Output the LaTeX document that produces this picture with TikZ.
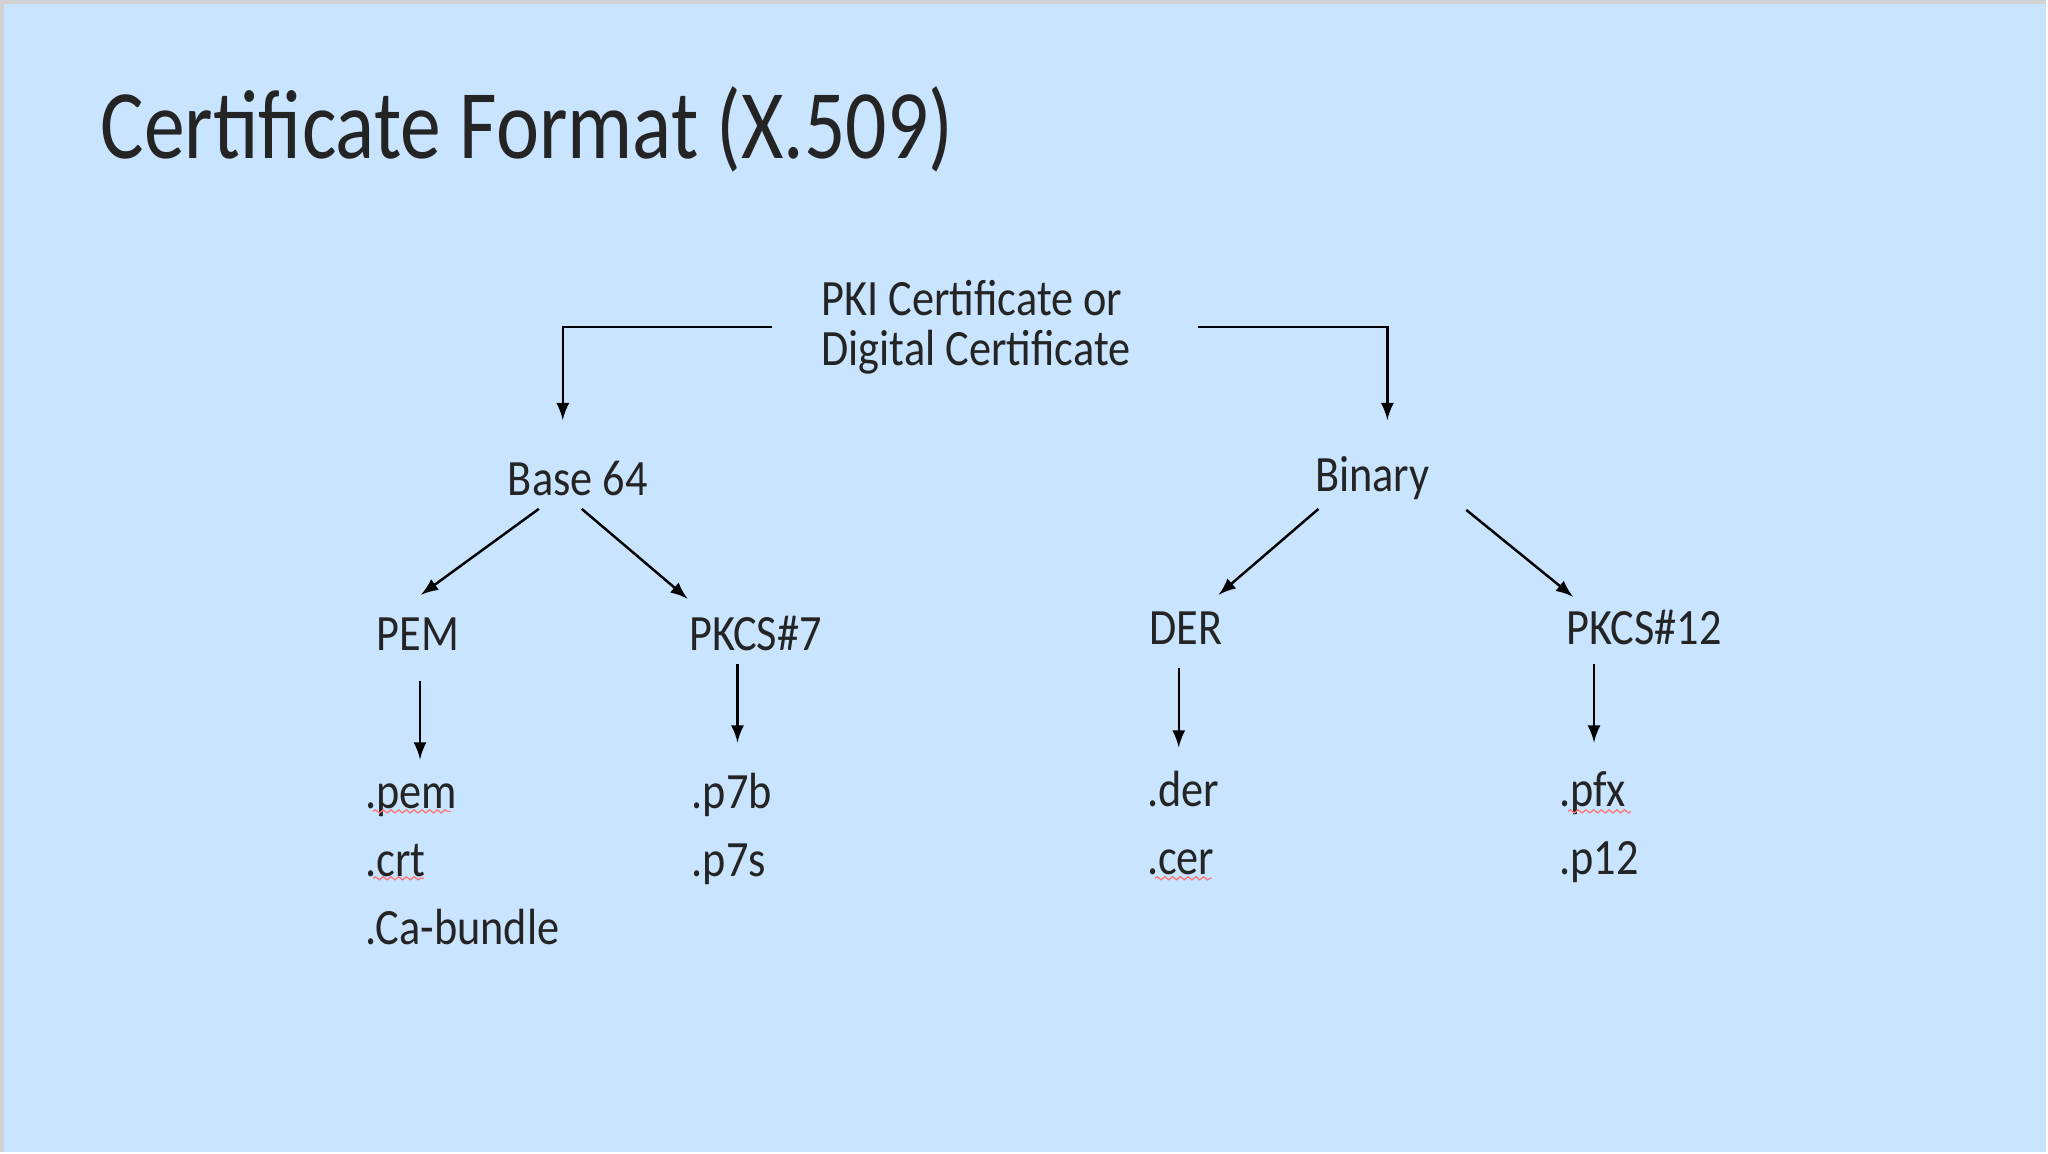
\documentclass[tikz,border=0pt]{standalone}
\usepackage{fontspec}
\setmainfont{Carlito}[FakeStretch=0.87]
\newfontfamily\titlefont{Carlito}[FakeStretch=0.83]
\usetikzlibrary{calc,decorations.pathmorphing}

\definecolor{slideblue}{HTML}{C9E4FF}
\definecolor{inkgray}{HTML}{242424}

\tikzset{
    fmt/.style={font=\fontsize{14.5}{14.2}\selectfont, text=inkgray, inner sep=0pt},
    ext/.style={fmt, anchor=base west},
    spell/.style={draw=red!55, line width=0.35pt, decorate,
        decoration={snake, amplitude=0.45pt, segment length=2.2pt}},
}

\begin{document}
\begin{tikzpicture}[x=0.01cm, y=-0.01cm, >=latex, line width=0.7pt]
    % the slide
    \fill[slideblue] (0,0) rectangle (2048,1152);
    \draw[gray!35, line width=1pt] (0,1152) -- (0,0) -- (2048,0);
    \useasboundingbox (0,0) rectangle (2048,1152);

    % the title
    \node[anchor=base west, inner sep=0pt, text=inkgray,
        font=\titlefont\fontsize{28}{30}\selectfont] (title) at (98,157) {Certificate Format (X.509)};

    % the tree (nodes placed on their baselines)
    \node[fmt, anchor=west, align=left] (pki) at (820,326) {PKI Certificate or\\Digital Certificate};
    \node[fmt, anchor=base] (base) at (577,495) {Base 64};
    \node[fmt, anchor=base] (binary) at (1373,491) {Binary};
    \node[fmt, anchor=base] (pem) at (417,650) {PEM};
    \node[fmt, anchor=base] (pkcsseven) at (755,650) {PKCS\#7};
    \node[fmt, anchor=base] (der) at (1186,644) {DER};
    \node[fmt, anchor=base] (pkcstwelve) at (1645,644) {PKCS\#12};

    % the file extensions
    \node[ext] (pemx) at (363,808) {.pem};
    \node[ext] (crtx) at (363,876) {.crt};
    \node[ext] (cabx) at (363,944) {.Ca-bundle};
    \node[ext] (pbx) at (690,808) {.p7b};
    \node[ext] (psx) at (690,876) {.p7s};
    \node[ext] (derx) at (1146,806) {.der};
    \node[ext] (cerx) at (1146,874) {.cer};
    \node[ext] (pfxx) at (1559,806) {.pfx};
    \node[ext] (ptx) at (1559,874) {.p12};

    % draw the arrows
    \draw[->] ($(pki.west)+(-48,0)$) -| ($(base.base)+(-15,-76)$);
    \draw[->] ($(pki.east)+(66,0)$) -| ($(binary.base)+(15,-72)$);
    \draw[->] ($(base.base)+(-39,13)$) -- ($(pem.base)+(3,-56)$);
    \draw[->] ($(base.base)+(4,13)$) -- ($(pkcsseven.base)+(-68,-52)$);
    \draw[->] ($(binary.base)+(-54,17)$) -- ($(der.base)+(33,-50)$);
    \draw[->] ($(binary.base)+(94,18)$) -- ($(pkcstwelve.base)+(-71,-48)$);
    \draw[->] ($(pem.base)+(2,30)$) -- ($(pemx.base west)+(56,-49)$);
    \draw[->] ($(pkcsseven.base)+(-18,13)$) -- ($(pbx.base west)+(47,-66)$);
    \draw[->] ($(der.base)+(-7,23)$) -- ($(derx.base west)+(33,-59)$);
    \draw[->] ($(pkcstwelve.base)+(-50,19)$) -- ($(pfxx.base west)+(36,-64)$);

    % the spelling marks
    \draw[spell] ($(pemx.base west)+(9,3)$) -- ++(78,0);
    \draw[spell] ($(crtx.base west)+(9,2)$) -- ++(51,0);
    \draw[spell] ($(cerx.base west)+(9,4)$) -- ++(57,0);
    \draw[spell] ($(pfxx.base west)+(10,5)$) -- ++(63,0);
\end{tikzpicture}
\end{document}
